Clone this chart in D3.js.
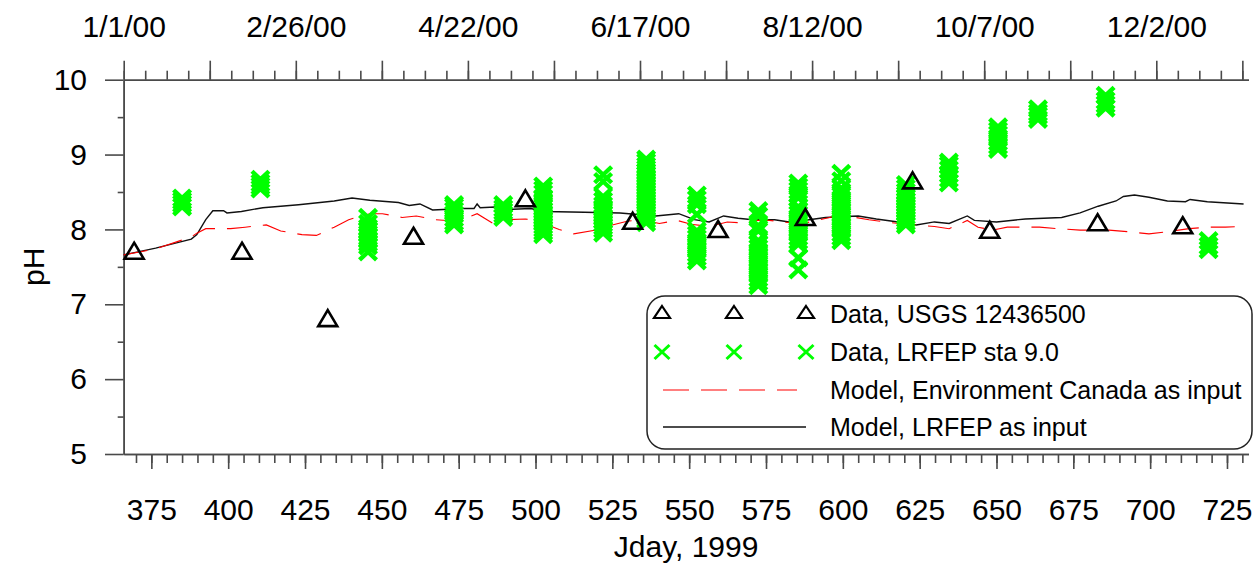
<!DOCTYPE html>
<html>
<head>
<meta charset="utf-8">
<script src="https://cdn.jsdelivr.net/npm/d3@7"></script>
<style>
  html, body { margin: 0; padding: 0; background: #fff; }
  svg { display: block; font-family: "Liberation Sans", Arial, Helvetica, sans-serif; }
</style>
</head>
<body>
<svg id="chart" width="1259" height="563"></svg>
<script>
// ---- Data -------------------------------------------------------------
// USGS 12436500 grab samples (Julian day counted from 1999, pH)
const usgsDays = [369.4, 404.5, 432.4, 460.3, 496.7, 531.6, 559.4, 587.8, 622.7, 647.8, 682.9, 710.6];
const usgsPH   = [7.68, 7.68, 6.78, 7.88, 8.38, 8.08, 7.97, 8.13, 8.62, 7.96, 8.06, 8.02];

// LRFEP station 9.0 sampling days and the pH readings taken on each
const lrfepDays = [385, 410.5, 445.5, 473.5, 489.5, 502.5, 522, 536, 552.5, 572.5, 585.5, 599.5, 620.5, 634.5, 650.5, 663.5, 685.5, 719];
const lrfepPH = [
  [8.30, 8.34, 8.38, 8.42],
  [8.54, 8.58, 8.62, 8.67],
  [8.16, 8.08, 8.02, 7.98, 7.94, 7.90, 7.86, 7.82, 7.78, 7.70],
  [8.06, 8.10, 8.15, 8.20, 8.25, 8.30, 8.33],
  [8.16, 8.20, 8.24, 8.28, 8.33],
  [7.93, 7.97, 8.01, 8.05, 8.09, 8.13, 8.17, 8.21, 8.25, 8.29, 8.33, 8.37, 8.42, 8.48, 8.53, 8.58],
  [7.95, 8.00, 8.04, 8.08, 8.12, 8.16, 8.20, 8.24, 8.28, 8.32, 8.38, 8.44, 8.64, 8.73],
  [8.09, 8.13, 8.17, 8.21, 8.25, 8.29, 8.33, 8.37, 8.41, 8.45, 8.49, 8.53, 8.57, 8.61, 8.65, 8.69, 8.73, 8.77, 8.81, 8.85, 8.90, 8.94],
  [8.46, 8.40, 8.33, 8.20, 7.98, 7.93, 7.88, 7.83, 7.78, 7.73, 7.68, 7.63, 7.58],
  [8.25, 8.18, 8.05, 7.98, 7.85, 7.80, 7.75, 7.70, 7.65, 7.60, 7.55, 7.50, 7.45, 7.40, 7.35, 7.30, 7.25],
  [8.62, 8.57, 8.52, 8.47, 8.42, 8.30, 8.25, 8.20, 8.15, 8.10, 8.05, 8.00, 7.95, 7.90, 7.85, 7.80, 7.62, 7.46],
  [8.75, 8.65, 8.55, 8.50, 8.45, 8.40, 8.35, 8.30, 8.25, 8.20, 8.15, 8.10, 8.05, 8.00, 7.95, 7.90, 7.85],
  [8.06, 8.10, 8.14, 8.18, 8.22, 8.26, 8.30, 8.34, 8.38, 8.42, 8.46, 8.50, 8.55, 8.60],
  [8.62, 8.68, 8.74, 8.80, 8.86, 8.90],
  [9.07, 9.12, 9.17, 9.22, 9.27, 9.32, 9.37],
  [9.47, 9.52, 9.56, 9.61],
  [9.62, 9.67, 9.72, 9.79],
  [7.73, 7.78, 7.85]
];

// Model run driven by LRFEP inputs
const modelLrfepDays = [366, 376.4, 382.2, 388, 389.8, 392.7, 395, 398.5, 399.6, 404.3, 411.3, 422.9, 434.5, 440.3, 446.1,
  455.4, 458.9, 462.4, 466.5, 471.7, 476.4, 480, 481, 482, 486.8, 492.6, 498.4, 503.1, 515.9, 527.5, 539.1, 546.6,
  551.7, 556.5, 561.2, 565.9, 570.7, 577.8, 582.5, 587.2, 594.4, 599.1, 605, 610.9, 618, 623.9, 629.8, 634.6,
  640.5, 642.8, 650, 659.4, 671.2, 677.2, 683.1, 688.9, 691.3, 694.9, 699.6, 705.6, 711.5, 713, 718.6, 730.4];
const modelLrfepPH = [7.66, 7.75, 7.81, 7.87, 7.93, 8.13, 8.25, 8.25, 8.22, 8.24, 8.29, 8.33, 8.38, 8.42, 8.39,
  8.36, 8.32, 8.34, 8.26, 8.27, 8.28, 8.28, 8.34, 8.29, 8.30, 8.27, 8.28, 8.24, 8.23, 8.22, 8.18, 8.21,
  8.13, 8.10, 8.18, 8.15, 8.13, 8.13, 8.10, 8.12, 8.16, 8.17, 8.18, 8.14, 8.10, 8.06, 8.10, 8.08,
  8.18, 8.12, 8.10, 8.14, 8.16, 8.22, 8.31, 8.38, 8.44, 8.46, 8.43, 8.38, 8.37, 8.40, 8.37, 8.34];

// Model run driven by Environment Canada inputs
const modelEcDays = [366, 376.4, 388, 389.8, 392.7, 396, 400.8, 405.5, 412.4, 417.1, 424, 428.7, 434.5, 439.2, 446.1,
  450.2, 456.6, 461.2, 467.1, 471.1, 477.5, 481, 486.2, 490.3, 496.7, 500.8, 507.7, 512.4, 519.3, 524, 529.8,
  534.5, 540.3, 546.1, 550.6, 556.5, 562.4, 566, 574.2, 580.1, 587.2, 596.7, 602.6, 608.5, 615.6, 622.7, 629.8,
  634.6, 640.5, 644, 648.8, 653.5, 664, 670.1, 677.2, 686.6, 692.5, 699.6, 705.6, 712.7, 718.6, 724.5, 729.8];
const modelEcPH = [7.66, 7.74, 7.90, 7.95, 8.01, 8.01, 8.01, 8.03, 8.06, 7.98, 7.93, 7.92, 8.03, 8.13, 8.21,
  8.21, 8.16, 8.18, 8.13, 8.12, 8.15, 8.21, 8.08, 8.13, 8.14, 8.11, 8.00, 7.94, 7.99, 8.05, 8.11,
  8.13, 8.08, 8.12, 8.07, 8.04, 8.10, 8.09, 8.13, 8.10, 8.08, 8.17, 8.17, 8.13, 8.09, 8.06, 8.04,
  8.01, 8.12, 8.03, 7.99, 8.03, 8.03, 8.01, 7.99, 7.99, 7.97, 7.94, 7.97, 8.01, 8.03, 8.03, 8.04];

// Axis ticks
const bottomMajor = d3.range(375, 731, 25);
const bottomMinor = d3.range(370, 731, 5);
const leftMajor = [5, 6, 7, 8, 9, 10];
const leftMinor = [5.5, 6.5, 7.5, 8.5, 9.5];

const legendLabels = [
  "Data, USGS 12436500",
  "Data, LRFEP sta 9.0",
  "Model, Environment Canada as input",
  "Model, LRFEP as input"
];

// ---- Scales ------------------------------------------------------------
const svg = d3.select("#chart");
const x = d3.scaleLinear().domain([366, 732]).range([123.7, 1248.5]);
const y = d3.scaleLinear().domain([5, 10]).range([454, 79.7]);
const start = new Date(Date.UTC(2000, 0, 1));
const end = new Date(Date.UTC(2001, 0, 1));
const t = d3.scaleUtc().domain([start, end]).range(x.range());

const axisColor = "#4a4a4a";
const green = "#00ff00";

function styleAxis(g) {
  g.select(".domain").attr("stroke", axisColor).attr("stroke-width", 1.6);
  g.selectAll(".tick line").attr("stroke", axisColor).attr("stroke-width", 1.6);
  g.selectAll(".tick text").attr("fill", "#000").style("font-size", "30px")
    .style("font-family", "'Liberation Sans', Arial, Helvetica, sans-serif");
}

// ---- Axes --------------------------------------------------------------
// bottom: Julian day
svg.append("g").attr("transform", `translate(0,${y(5)})`)
  .call(d3.axisBottom(x).tickValues(bottomMinor).tickSize(9).tickSizeOuter(0).tickFormat(""))
  .call(styleAxis);
svg.append("g").attr("transform", `translate(0,${y(5)})`)
  .call(d3.axisBottom(x).tickValues(bottomMajor).tickSize(15).tickSizeOuter(0).tickPadding(29.7).tickFormat(d3.format("d")))
  .call(styleAxis);

// top: calendar dates, weekly minor ticks, 4-week major ticks
const weekly = d3.utcDay.range(start, end, 7);
const fourWeekly = d3.utcDay.range(start, end, 28);
const fmtDate = d3.utcFormat("%-m/%-d/%y");
svg.append("g").attr("transform", `translate(0,${y(10)})`)
  .call(d3.axisTop(t).tickValues(weekly).tickSize(9).tickSizeOuter(0).tickFormat(""))
  .call(styleAxis);
svg.append("g").attr("transform", `translate(0,${y(10)})`)
  .call(d3.axisTop(t).tickValues(fourWeekly).tickSize(19).tickSizeOuter(0).tickPadding(24)
    .tickFormat((d, i) => i % 2 === 0 ? fmtDate(d) : ""))
  .call(styleAxis);

// left: pH
svg.append("g").attr("transform", `translate(${x(366)},0)`)
  .call(d3.axisLeft(y).tickValues(leftMinor).tickSize(6).tickSizeOuter(0).tickFormat(""))
  .call(styleAxis);
svg.append("g").attr("transform", `translate(${x(366)},0)`)
  .call(d3.axisLeft(y).tickValues(leftMajor).tickSize(18.7).tickSizeOuter(0).tickPadding(18).tickFormat(d3.format("d")))
  .call(styleAxis);

// axis titles
svg.append("text")
  .attr("x", (x.range()[0] + x.range()[1]) / 2).attr("y", 557)
  .attr("text-anchor", "middle").style("font-size", "30px").text("Jday, 1999");
svg.append("text")
  .attr("transform", `translate(44,${(y(5) + y(10)) / 2}) rotate(-90)`)
  .attr("text-anchor", "middle").style("font-size", "30px").text("pH");

// ---- Model lines -------------------------------------------------------
const line = d3.line().x(d => x(d[0])).y(d => y(d[1]));
svg.append("path")
  .datum(modelLrfepDays.map((d, i) => [d, modelLrfepPH[i]]))
  .attr("d", line).attr("fill", "none").attr("stroke", "#111").attr("stroke-width", 1.4);
svg.append("path")
  .datum(modelEcDays.map((d, i) => [d, modelEcPH[i]]))
  .attr("d", line).attr("fill", "none").attr("stroke", "#ff0000").attr("stroke-width", 1.1)
  .attr("stroke-dasharray", "24 12");

// ---- Markers -----------------------------------------------------------
function xMarker(a, b) { return `M${-a},${-b}L${a},${b}M${-a},${b}L${a},${-b}`; }
function triMarker(w, h) { return `M0,${-h * 2 / 3}L${w / 2},${h / 3}L${-w / 2},${h / 3}Z`; }

const lrfepPoints = lrfepDays.flatMap((d, i) => lrfepPH[i].map(v => ({ day: d, ph: v })));
svg.append("g").selectAll("path").data(lrfepPoints).join("path")
  .attr("transform", d => `translate(${x(d.day)},${y(d.ph)})`)
  .attr("d", xMarker(8.5, 8))
  .attr("fill", "none").attr("stroke", green).attr("stroke-width", 4.4);

svg.append("g").selectAll("path").data(usgsDays.map((d, i) => ({ day: d, ph: usgsPH[i] }))).join("path")
  .attr("transform", d => `translate(${x(d.day)},${y(d.ph)})`)
  .attr("d", triMarker(19, 16))
  .attr("fill", "none").attr("stroke", "#000").attr("stroke-width", 2.6).attr("stroke-linejoin", "miter");

// ---- Legend ------------------------------------------------------------
const lg = svg.append("g");
lg.append("rect").attr("x", 647).attr("y", 296).attr("width", 605).attr("height", 153)
  .attr("rx", 18).attr("ry", 18).attr("fill", "#fff").attr("stroke", "#222").attr("stroke-width", 1.5);
const rowY = [314, 352, 390, 427];
const symX = [662, 734, 806];
symX.forEach(sx => {
  lg.append("path").attr("transform", `translate(${sx},${rowY[0]})`).attr("d", triMarker(16, 12))
    .attr("fill", "none").attr("stroke", "#000").attr("stroke-width", 2.2);
  lg.append("path").attr("transform", `translate(${sx},${rowY[1]})`).attr("d", xMarker(7.5, 7))
    .attr("fill", "none").attr("stroke", green).attr("stroke-width", 3);
});
lg.append("line").attr("x1", 663).attr("x2", 797).attr("y1", rowY[2]).attr("y2", rowY[2])
  .attr("stroke", "#ff0000").attr("stroke-width", 1.1).attr("stroke-dasharray", "26 12");
lg.append("line").attr("x1", 663).attr("x2", 806).attr("y1", rowY[3]).attr("y2", rowY[3])
  .attr("stroke", "#111").attr("stroke-width", 1.3);
lg.selectAll("text.lbl").data(legendLabels).join("text").attr("class", "lbl")
  .attr("x", 830).attr("y", (d, i) => rowY[i]).attr("dy", "0.35em")
  .style("font-size", "25px").text(d => d);
</script>
</body>
</html>
